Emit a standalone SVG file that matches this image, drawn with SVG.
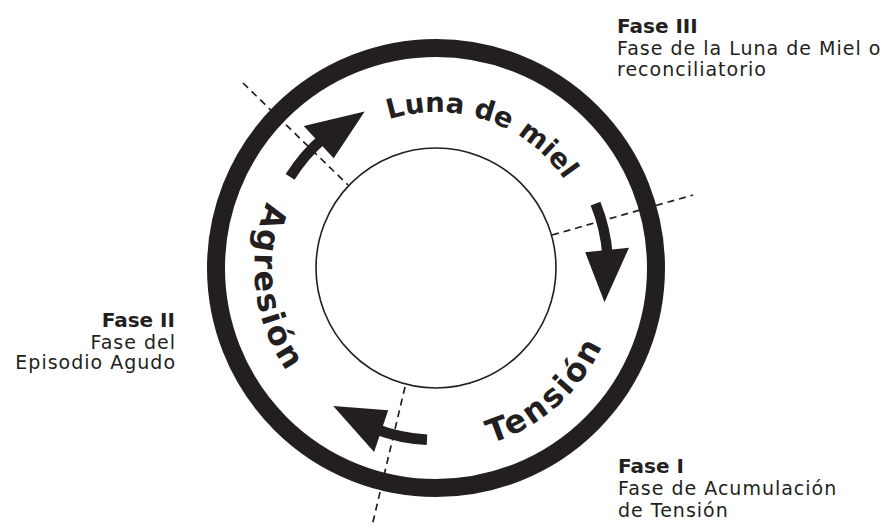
<svg xmlns="http://www.w3.org/2000/svg" width="885" height="526" viewBox="0 0 885 526">
<style>
.ring{fill:none;stroke:#231f20;stroke-width:18}
.inner{fill:none;stroke:#231f20;stroke-width:1.6}
.dash{fill:none;stroke:#231f20;stroke-width:1.7;stroke-dasharray:7 5}
.shaft{fill:none;stroke:#231f20;stroke-width:10.5}
.head{fill:#231f20}
.arc{font-family:"DejaVu Sans","Liberation Sans",sans-serif;font-weight:bold;fill:#231f20}
.h{font-family:"DejaVu Sans","Liberation Sans",sans-serif;font-weight:bold;font-size:20px;fill:#231f20}
.b{font-family:"DejaVu Sans","Liberation Sans",sans-serif;font-size:19px;letter-spacing:1px;fill:#231f20}
</style>
<defs>
<path id="pLuna" d="M290.3,215 A155,155 0 0 1 583.4,315.9"/>
<path id="pTension" d="M301.8,391 A182,182 0 0 0 574.4,149.8"/>
<path id="pAgresion" d="M410.9,89.7 A180,180 0 0 0 454.8,447"/>
</defs>
<rect width="885" height="526" fill="#ffffff"/>
<g id="connectors">
<line class="dash" x1="243" y1="83" x2="348" y2="185"/>
<line class="dash" x1="552" y1="235" x2="693" y2="195"/>
<line class="dash" x1="405" y1="387" x2="372" y2="526"/>
</g>
<g id="ring"><circle class="ring" cx="436" cy="268" r="220"/></g>
<g id="inner"><circle class="inner" cx="436" cy="268" r="120"/></g>
<g id="arrow-agresion">
<path class="shaft" d="M290.1,176.9 A172,172 0 0 1 323.2,138.2"/>
<polygon class="head" points="333.7,158.3 303.7,126.1 364.7,111.5"/>
</g>
<g id="arrow-luna">
<path class="shaft" d="M595.5,203.6 A172,172 0 0 1 607.6,256"/>
<polygon class="head" points="585.2,252.3 629,247.7 604.5,302.3"/>
</g>
<g id="arrow-tension">
<path class="shaft" d="M427,439.8 A172,172 0 0 1 375.5,429"/>
<polygon class="head" points="388.2,410.2 374.1,451.9 333.2,405.9"/>
</g>
<g id="label-luna"><text class="arc" font-size="27.5"><textPath href="#pLuna" startOffset="50%" text-anchor="middle">Luna de miel</textPath></text></g>
<g id="label-tension"><text class="arc" font-size="32" letter-spacing="2.5"><textPath href="#pTension" startOffset="50%" text-anchor="middle">Tensión</textPath></text></g>
<g id="label-agresion"><text class="arc" font-size="32" letter-spacing="2.5"><textPath href="#pAgresion" startOffset="50%" text-anchor="middle">Agresión</textPath></text></g>
<g id="fase3">
<text class="h" x="617" y="33">Fase III</text>
<text class="b" x="617" y="55">Fase de la Luna de Miel o</text>
<text class="b" x="617" y="76">reconciliatorio</text>
</g>
<g id="fase2">
<text class="h" x="175" y="327" text-anchor="end">Fase II</text>
<text class="b" x="176" y="349" text-anchor="end">Fase del</text>
<text class="b" x="176" y="369" text-anchor="end">Episodio Agudo</text>
</g>
<g id="fase1">
<text class="h" x="618" y="473">Fase I</text>
<text class="b" x="618" y="495">Fase de Acumulación</text>
<text class="b" x="618" y="517">de Tensión</text>
</g>
</svg>
